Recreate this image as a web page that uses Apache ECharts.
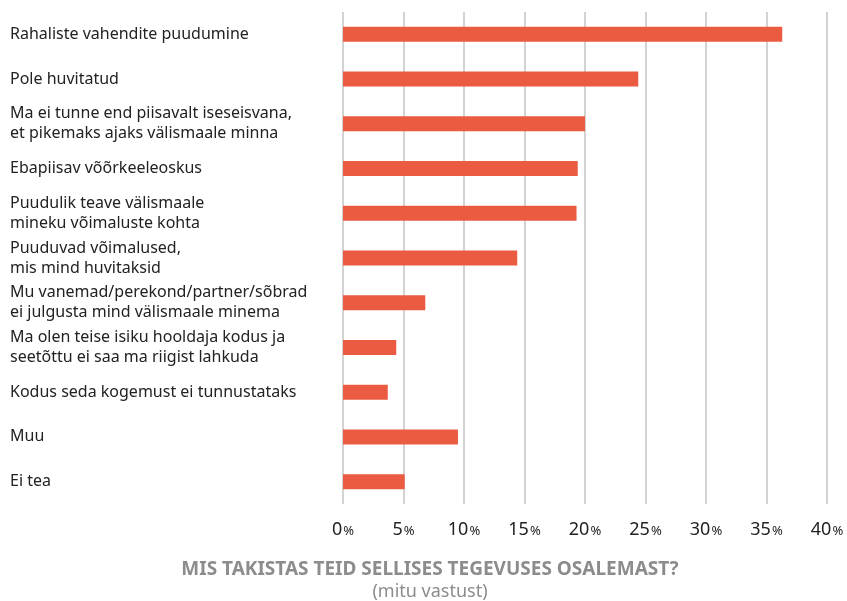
<!DOCTYPE html>
<html>
<head>
<meta charset="utf-8">
<script src="https://cdn.jsdelivr.net/npm/echarts@6/dist/echarts.min.js"></script>
<style>
  html, body { margin: 0; padding: 0; background: #fff; }
  #chart { width: 847px; height: 601px; }
</style>
</head>
<body>
<div id="chart"></div>
<script>
var categories = [
    'Rahaliste vahendite puudumine',
    'Pole huvitatud',
    'Ma ei tunne end piisavalt iseseisvana,\net pikemaks ajaks välismaale minna',
    'Ebapiisav võõrkeeleoskus',
    'Puudulik teave välismaale\nmineku võimaluste kohta',
    'Puuduvad võimalused,\nmis mind huvitaksid',
    'Mu vanemad/perekond/partner/sõbrad\nei julgusta mind välismaale minema',
    'Ma olen teise isiku hooldaja kodus ja\nseetõttu ei saa ma riigist lahkuda',
    'Kodus seda kogemust ei tunnustataks',
    'Muu',
    'Ei tea'
];
var values = [36.3, 24.4, 20.0, 19.4, 19.3, 14.4, 6.8, 4.4, 3.7, 9.5, 5.1];
var ticks = [0, 5, 10, 15, 20, 25, 30, 35, 40];

var chart = echarts.init(document.getElementById('chart'));
var font = '"Noto Sans", sans-serif';

var option = {
    animation: false,
    title: {
        text: 'MIS TAKISTAS TEID SELLISES TEGEVUSES OSALEMAST?',
        subtext: '(mitu vastust)',
        left: 425,
        textAlign: 'center',
        top: 555,
        itemGap: 4,
        textStyle: { fontFamily: font, fontSize: 19, fontWeight: 'bold', color: '#8c8c8c' },
        subtextStyle: { fontFamily: font, fontSize: 18, color: '#8c8c8c' }
    },
    grid: { left: 343, right: 20, top: 12, bottom: 97 },
    xAxis: {
        type: 'value',
        min: 0,
        max: 40,
        interval: 5,
        axisLine: { show: false },
        axisTick: { show: false },
        splitLine: { lineStyle: { color: '#c4c4c4', width: 1.5 } },
        axisLabel: {
            margin: 17,
            formatter: function (v) {
                return ticks.indexOf(v) >= 0 ? '{n|' + v + '}{p|%}' : '';
            },
            rich: {
                n: { fontFamily: font, fontSize: 18, color: '#222' },
                p: { fontFamily: font, fontSize: 13, color: '#222', padding: [3, 0, 0, 1] }
            }
        }
    },
    yAxis: {
        type: 'category',
        inverse: true,
        data: categories,
        axisLine: { show: false },
        axisTick: { show: false },
        axisLabel: {
            align: 'left',
            margin: 333,
            fontFamily: font,
            fontSize: 16,
            lineHeight: 20,
            color: '#222'
        }
    },
    series: [{
        type: 'bar',
        data: values,
        barWidth: 15,
        itemStyle: { color: '#eb5b42' }
    }]
};
chart.setOption(option);
</script>
</body>
</html>
